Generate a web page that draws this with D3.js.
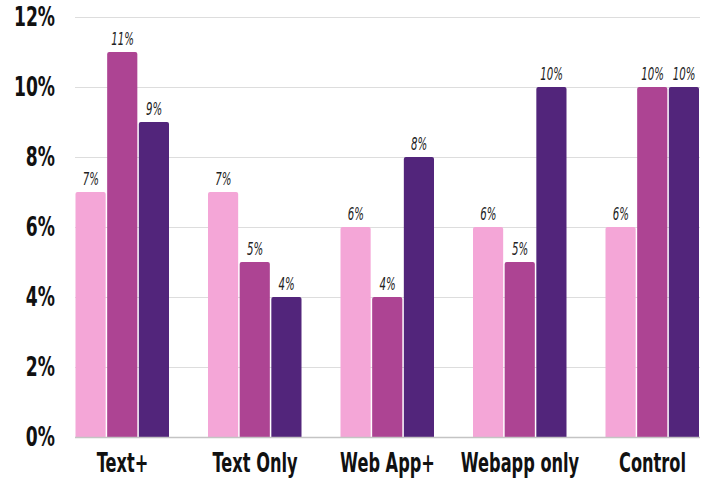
<!DOCTYPE html>
<html>
<head>
<meta charset="UTF-8">
<script src="https://cdn.jsdelivr.net/npm/d3@7/dist/d3.min.js"></script>
<style>
body { margin: 0; background: #fff; }
</style>
</head>
<body>
<script>
var categories = ["Text+", "Text Only", "Web App+", "Webapp only", "Control"];
var seriesNames = ["s1", "s2", "s3"];
var s1 = [7, 7, 6, 6, 6];
var s2 = [11, 5, 4, 5, 10];
var s3 = [9, 4, 8, 10, 10];
var yTicks = [0, 2, 4, 6, 8, 10, 12];
var colors = ["#f4a6d7", "#ad4493", "#52257b"];

var Width = 717, Height = 478;
var plotLeft = 75, plotRight = 700, plotTop = 17, plotBottom = 437;
var svg = d3.select("body").append("svg")
    .attr("width", Width).attr("height", Height);

var x = d3.scaleBand().domain(categories).range([plotLeft, plotRight])
    .paddingInner(0.283).paddingOuter(0).align(0);
var x1 = d3.scaleBand().domain(seriesNames).range([0, x.bandwidth()]).padding(0);
var y = d3.scaleLinear().domain([0, 12]).range([plotBottom, plotTop]);

var condensed = "'DejaVu Sans', sans-serif";

// squeeze text horizontally around its anchor point
function squeeze(sel, k){
    sel.attr("transform", function(){
        var ax = +d3.select(this).attr("x");
        return "translate(" + ax + ",0) scale(" + k + ",1) translate(" + (-ax) + ",0)";
    });
}

// grid
svg.append("g").selectAll("line").data(yTicks.filter(function(d){ return d > 0; }))
    .enter().append("line")
    .attr("x1", plotLeft).attr("x2", plotRight)
    .attr("y1", function(d){ return y(d) + 0.5; })
    .attr("y2", function(d){ return y(d) + 0.5; })
    .attr("stroke", "#dddddd").attr("stroke-width", 1);

// y tick labels
svg.append("g").selectAll("text").data(yTicks).enter().append("text")
    .attr("x", 55).attr("y", function(d){ return y(d); })
    .attr("dy", "0.36em")
    .attr("text-anchor", "end")
    .style("font-family", condensed).style("font-weight", "bold")
    .style("font-size", "26px").attr("fill", "#111")
    .text(function(d){ return d + "%"; })
    .call(squeeze, 0.66);

var rows = categories.map(function(c, i){
    return [
        {cat: c, key: "s1", v: s1[i], color: colors[0]},
        {cat: c, key: "s2", v: s2[i], color: colors[1]},
        {cat: c, key: "s3", v: s3[i], color: colors[2]}
    ];
});
var bars = [].concat.apply([], rows);

svg.append("g").selectAll("path").data(bars).enter().append("path")
    .attr("fill", function(d){ return d.color; })
    .attr("d", function(d){
        var bx = x(d.cat) + x1(d.key) + 0.5, bw = x1.bandwidth() - 1.5;
        var by = y(d.v), r = 2;
        return "M" + bx + "," + plotBottom + "V" + (by + r) +
            "Q" + bx + "," + by + " " + (bx + r) + "," + by +
            "H" + (bx + bw - r) +
            "Q" + (bx + bw) + "," + by + " " + (bx + bw) + "," + (by + r) +
            "V" + plotBottom + "Z";
    });

// baseline
svg.append("line").attr("x1", plotLeft).attr("x2", plotRight)
    .attr("y1", plotBottom + 0.5).attr("y2", plotBottom + 0.5)
    .attr("stroke", "#c4c4c4").attr("stroke-width", 1.5);

// value labels
svg.append("g").selectAll("text").data(bars).enter().append("text")
    .attr("x", function(d){ return x(d.cat) + x1(d.key) + x1.bandwidth() / 2; })
    .attr("y", function(d){ return y(d.v) - 7; })
    .attr("text-anchor", "middle")
    .style("font-family", condensed).style("font-style", "italic")
    .style("font-size", "17px").attr("fill", "#222")
    .text(function(d){ return d.v + "%"; })
    .call(squeeze, 0.6);

// x labels
svg.append("g").selectAll("text").data(categories).enter().append("text")
    .attr("x", function(d){ return x(d) + x.bandwidth() / 2; })
    .attr("y", 472)
    .attr("text-anchor", "middle")
    .style("font-family", condensed).style("font-weight", "bold")
    .style("font-size", "27px").attr("fill", "#111")
    .text(function(d){ return d; })
    .call(squeeze, 0.6);
</script>
</body>
</html>
